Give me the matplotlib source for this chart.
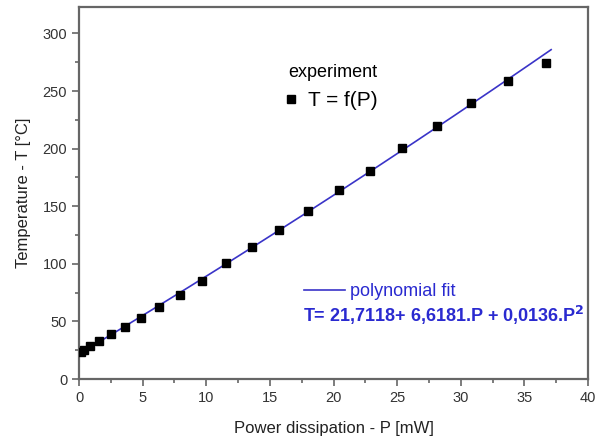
import numpy as np
import matplotlib.pyplot as plt
from matplotlib.ticker import MultipleLocator

plt.rcParams['font.family'] = ['Liberation Sans', 'DejaVu Sans']

# measured points
power = [0.12, 0.37, 0.9, 1.6, 2.5, 3.6, 4.86, 6.28, 7.9, 9.66, 11.54,
         13.6, 15.75, 18.03, 20.4, 22.9, 25.4, 28.1, 30.8, 33.7, 36.7]
temp = [23.3, 25.6, 28.5, 32.8, 38.7, 45.3, 52.9, 62.8, 73.3, 84.9, 100.3,
        114.5, 129.0, 145.6, 164.0, 180.8, 200.6, 219.8, 239.5, 258.4, 274.7]

# fit coefficients shown on the chart (highest power first)
fit_coef = [0.0136, 6.6181, 21.7118]
fit_range = [0.1, 37.1]

blue = '#2a2ad0'
grey = '#666666'

fig = plt.figure(figsize=(6.14, 4.38), dpi=100)
ax = fig.add_axes([0.1287, 0.1347, 0.829, 0.8493])

p_fit = np.linspace(fit_range[0], fit_range[1], 200)
line, = ax.plot(p_fit, np.polyval(fit_coef, p_fit), color='#3a34c8', lw=1.2,
                label='polynomial fit', zorder=2)
pts, = ax.plot(power, temp, 's', color='black', ms=6, ls='none',
               label='T = f(P)', zorder=3)

ax.set_xlim(0, 40)
ax.set_ylim(0, 323)
ax.xaxis.set_major_locator(MultipleLocator(5))
ax.xaxis.set_minor_locator(MultipleLocator(2.5))
ax.yaxis.set_major_locator(MultipleLocator(50))
ax.yaxis.set_minor_locator(MultipleLocator(25))
ax.tick_params(which='both', direction='out', color=grey, width=1.2,
               labelsize=10.5, labelcolor='#333333')
ax.tick_params(which='major', length=5)
ax.tick_params(which='minor', length=3)
for s in ax.spines.values():
    s.set_color(grey)
    s.set_linewidth(1.6)

ax.set_xlabel('Power dissipation - P [mW]', fontsize=12, color='#222222', labelpad=12)
ax.set_ylabel('Temperature - T [°C]', fontsize=12, color='#222222', labelpad=8)

leg1 = ax.legend(handles=[pts], title='experiment', loc='upper left',
                 bbox_to_anchor=(0.364, 0.897), frameon=False, fontsize=15,
                 title_fontsize=13, handletextpad=0.4, handlelength=0.8)
leg1._legend_box.align = 'right'
ax.add_artist(leg1)

leg2 = ax.legend(handles=[line], loc='upper left', bbox_to_anchor=(0.41, 0.302),
                 frameon=False, fontsize=13, handlelength=2.3, handletextpad=0.25,
                 labelcolor=blue)

ax.text(0.44, 0.172, 'T= 21,7118+ 6,6181.P + 0,0136.P$^\\mathbf{2}$',
        transform=ax.transAxes, fontsize=13, fontweight='bold', color=blue,
        va='center', ha='left')

fig.savefig('out.png', dpi=100)
